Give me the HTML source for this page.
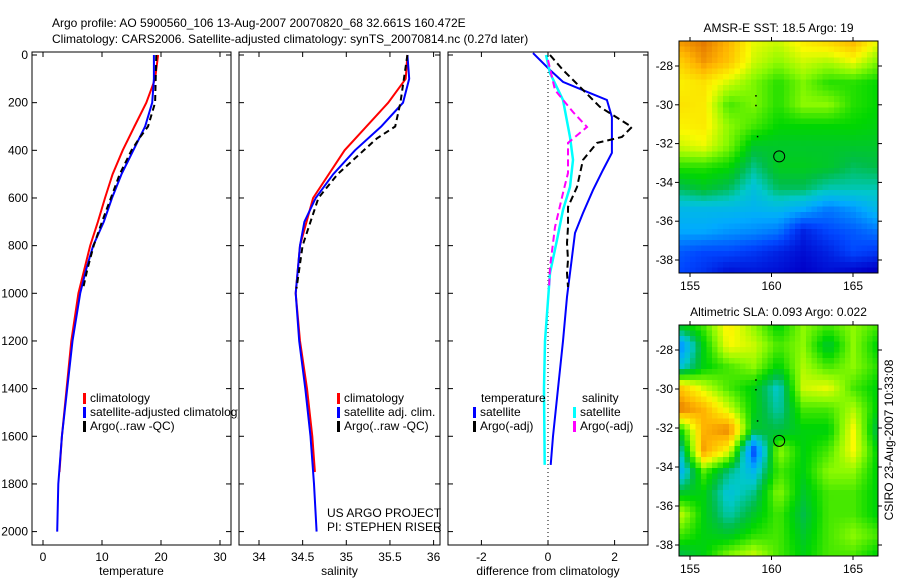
<!DOCTYPE html>
<html><head><meta charset="utf-8"><style>
body{margin:0;background:#fff;}
svg text{font-family:"Liberation Sans",sans-serif;font-size:12px;fill:#000;}
</style></head><body>
<svg id="fig" width="900" height="580" xmlns="http://www.w3.org/2000/svg">
<defs><clipPath id="clipP1"><rect x="0" y="0" width="238" height="580"/></clipPath></defs>
<text x="52" y="27" font-size="13">Argo profile: AO 5900560_106 13-Aug-2007 20070820_68 32.661S 160.472E</text>
<text x="52" y="43" font-size="13">Climatology: CARS2006. Satellite-adjusted climatology: synTS_20070814.nc (0.27d later)</text>
<g id="g"></g>
</svg>
<script>
// ---- data ----
const tempClimDepth=[0,100,200,300,400,500,600,700,800,900,1000,1200,1400,1600,1750];
const tempClimVal=[19.5,19,17.5,15.5,13.5,11.8,10.5,9.3,8,7,6,4.8,4,3.2,2.8];
const tempSatDepth=[0,100,200,300,400,500,600,700,800,900,1000,1200,1400,1600,1800,2000];
const tempSatVal=[18.8,18.8,18.5,17.3,15.3,13.3,11.7,10.3,8.5,7.3,6.3,5,4.1,3.2,2.6,2.4];
const tempArgoDepth=[0,100,200,300,350,400,500,600,700,800,900,980];
const tempArgoVal=[19.2,19.1,19,17.8,16.3,15,13,11.5,10,8.6,7.5,6.8];
const salClimDepth=[0,100,200,400,600,800,1000,1200,1400,1600,1750];
const salClimVal=[35.7,35.68,35.48,34.98,34.62,34.47,34.42,34.47,34.55,34.61,34.64];
const salSatDepth=[0,100,200,300,400,500,600,700,800,1000,1200,1400,1600,1800,2000];
const salSatVal=[35.7,35.72,35.65,35.4,35.1,34.85,34.65,34.52,34.47,34.42,34.46,34.53,34.59,34.63,34.66];
const salArgoDepth=[0,200,300,350,400,500,600,800,980];
const salArgoVal=[35.7,35.62,35.56,35.35,35.2,34.9,34.68,34.5,34.43];
const dTSatDepth=[-8,63,113,160,189,260,411,483,567,663,747,848,1015,1200,1400,1600,1720];
const dTSatVal=[-0.45,0.06,0.45,1.26,1.77,1.92,1.92,1.65,1.35,1.05,0.81,0.72,0.57,0.45,0.3,0.15,0.08];
const dSSatDepth=[0,76,189,344,440,554,650,776,915,1200,1400,1720];
const dSSatVal=[-0.06,0.06,0.45,0.66,0.75,0.66,0.45,0.27,0.06,-0.09,-0.12,-0.1];
const dSArgoDepth=[21,147,239,302,369,495,579,722,890,980];
const dSArgoVal=[0,0.21,0.75,1.17,0.6,0.6,0.45,0.21,0.06,0.03];
const dTArgoDepth=[0,63,134,218,302,344,369,440,554,638,722,789,860,915,974];
const dTArgoVal=[0.06,0.45,0.96,1.56,2.52,2.22,1.47,1.05,0.87,0.6,0.6,0.57,0.6,0.57,0.6];
const depthTicks=[0,200,400,600,800,1000,1200,1400,1600,1800,2000];
const tempTicks=[0,10,20,30];
const salTicks=[34,34.5,35,35.5,36];
const diffTicks=[-2,0,2];
const latTicks=[-28,-30,-32,-34,-36,-38];
const lonTicks=[155,160,165];
const sstGrid=[
[0.75,0.78,0.72,0.62,0.6,0.65,0.68,0.72,0.62],
[0.68,0.75,0.7,0.6,0.56,0.6,0.58,0.62,0.55],
[0.64,0.66,0.6,0.55,0.5,0.55,0.5,0.5,0.48],
[0.66,0.65,0.52,0.55,0.5,0.56,0.56,0.5,0.48],
[0.64,0.65,0.56,0.52,0.48,0.48,0.48,0.48,0.47],
[0.6,0.62,0.55,0.45,0.45,0.45,0.45,0.45,0.45],
[0.5,0.5,0.48,0.4,0.46,0.46,0.45,0.42,0.43],
[0.42,0.45,0.42,0.35,0.42,0.42,0.38,0.38,0.38],
[0.33,0.33,0.33,0.32,0.33,0.3,0.25,0.28,0.33],
[0.3,0.3,0.28,0.27,0.25,0.15,0.2,0.22,0.25],
[0.22,0.2,0.2,0.18,0.15,0.12,0.15,0.2,0.18],
[0.2,0.17,0.12,0.13,0.12,0.1,0.12,0.1,0.08]];
const slaGrid=[
[0.47,0.52,0.65,0.56,0.47,0.56,0.52,0.56,0.52],
[0.25,0.47,0.63,0.6,0.52,0.56,0.44,0.56,0.47],
[0.35,0.47,0.52,0.56,0.47,0.58,0.52,0.56,0.5],
[0.7,0.6,0.52,0.47,0.36,0.6,0.62,0.52,0.47],
[0.78,0.72,0.6,0.47,0.38,0.52,0.52,0.58,0.47],
[0.47,0.72,0.77,0.45,0.43,0.47,0.47,0.63,0.42],
[0.35,0.74,0.62,0.2,0.57,0.47,0.52,0.63,0.47],
[0.3,0.52,0.4,0.33,0.52,0.47,0.56,0.56,0.47],
[0.45,0.47,0.35,0.4,0.56,0.45,0.52,0.52,0.47],
[0.6,0.47,0.38,0.45,0.52,0.43,0.52,0.52,0.47],
[0.52,0.47,0.45,0.5,0.52,0.45,0.52,0.56,0.52],
[0.42,0.47,0.56,0.6,0.52,0.47,0.52,0.52,0.47]];

const NS='http://www.w3.org/2000/svg';
const G=document.getElementById('g');
function el(t,a,p){const e=document.createElementNS(NS,t);for(const k in a)e.setAttribute(k,a[k]);(p||G).appendChild(e);return e;}
const yD=d=>55+d*0.2383;
const TOP=52,BOT=545;
const xT=v=>43+v*5.9, xS=v=>259+(v-34)*87.3, xD=v=>548+v*33.3;

function panel(name,x0,x1,xf,ticks,label,leftLabels){
  const r=el('rect',{x:x0,y:TOP,width:x1-x0,height:BOT-TOP,fill:'none',stroke:'#000','stroke-width':1});
  
  
  ticks.forEach(t=>{const x=xf(t);
    el('line',{x1:x,x2:x,y1:BOT,y2:BOT-5,stroke:'#000'});
    el('line',{x1:x,x2:x,y1:TOP,y2:TOP+5,stroke:'#000'});
    const tx=el('text',{x:x,y:BOT+16,'text-anchor':'middle'});tx.textContent=String(t);
    
    
  });
  depthTicks.forEach(d=>{const y=yD(d);
    el('line',{x1:x0,x2:x0+5,y1:y,y2:y,stroke:'#000'});
    el('line',{x1:x1,x2:x1-5,y1:y,y2:y,stroke:'#000'});
    if(leftLabels){const tx=el('text',{x:x0-4,y:y+4,'text-anchor':'end'});tx.textContent=String(d);
      
      }
  });
  const l=el('text',{x:(x0+x1)/2,y:575,'text-anchor':'middle'});l.textContent=label;
  
  
}
function line(name,ds,vs,xf,color,w,dash){
  const pts=ds.map((d,i)=>xf(vs[i]).toFixed(1)+','+yD(d).toFixed(1)).join(' ');
  const a={points:pts,fill:'none',stroke:color,'stroke-width':w};
  if(dash)a['stroke-dasharray']=dash;
  const p=el('polyline',a);
  
  
}
function legendEntry(name,x,y,color,txt,clip){
  el('rect',{x:x,y:y-9,width:3,height:11,fill:color});
  const a={x:x+7,y:y,'font-size':12.5};
  if(clip)a['clip-path']='url(#clipP1)';
  const t=el('text',a);t.textContent=txt;
  
  
}
// panel 1 temperature
panel('temperature',32,231,xT,tempTicks,'temperature',true);
line('temp-climatology-line',tempClimDepth,tempClimVal,xT,'#f00',2);
line('temp-satellite-line',tempSatDepth,tempSatVal,xT,'#00f',2);
line('temp-argo-line',tempArgoDepth,tempArgoVal,xT,'#000',2,'6,4');
legendEntry('legend-climatology',83,402,'#f00','climatology');
legendEntry('legend-satellite-adjusted',83,416,'#00f','satellite-adjusted climatology',true);
legendEntry('legend-argo-raw',83,430,'#000','Argo(..raw -QC)');
// panel 2 salinity
panel('salinity',239,440,xS,salTicks,'salinity',false);
line('sal-climatology-line',salClimDepth,salClimVal,xS,'#f00',2);
line('sal-satellite-line',salSatDepth,salSatVal,xS,'#00f',2);
line('sal-argo-line',salArgoDepth,salArgoVal,xS,'#000',2,'6,4');
legendEntry('legend-sal-climatology',337,402,'#f00','climatology');
legendEntry('legend-sal-satellite',337,416,'#00f','satellite adj. clim.');
legendEntry('legend-sal-argo',337,430,'#000','Argo(..raw -QC)');
// panel 3 diff
panel('difference',448,648,xD,diffTicks,'difference from climatology',false);
el('line',{x1:xD(0),x2:xD(0),y1:TOP,y2:BOT,stroke:'#000','stroke-dasharray':'1,3'});
line('diff-temp-satellite-line',dTSatDepth,dTSatVal,xD,'#00f',2);
line('diff-sal-satellite-line',dSSatDepth,dSSatVal,xD,'#0ff',2.5);
line('diff-sal-argo-line',dSArgoDepth,dSArgoVal,xD,'#f0f',2,'7,4');
line('diff-temp-argo-line',dTArgoDepth,dTArgoVal,xD,'#000',2,'7,4');
{const t=el('text',{x:481,y:402,'font-size':12.5});t.textContent='temperature';
 const s=el('text',{x:582,y:402,'font-size':12.5});s.textContent='salinity';}
legendEntry('legend-diff-temp-satellite',473,416,'#00f','satellite');
legendEntry('legend-diff-temp-argo',473,430,'#000','Argo(-adj)');
legendEntry('legend-diff-sal-satellite',573,416,'#0ff','satellite');
legendEntry('legend-diff-sal-argo',573,430,'#f0f','Argo(-adj)');
{const a=el('text',{x:327,y:517,'font-size':12.5});a.textContent='US ARGO PROJECT';
 const b=el('text',{x:327,y:531,'font-size':12.5});b.textContent='PI: STEPHEN RISER';}

// ---- maps ----
const cmapStops=[[0,0,0,120],[0.1,0,0,200],[0.2,0,70,255],[0.3,0,170,255],[0.37,0,200,200],[0.43,0,190,70],[0.48,0,215,0],[0.56,140,250,0],[0.63,250,250,0],[0.72,255,180,0],[0.8,220,100,0],[1,150,0,0]];
function cmap(v){v=Math.max(0,Math.min(1,v));
  for(let k=1;k<cmapStops.length;k++){const a=cmapStops[k-1],b=cmapStops[k];
    if(v<=b[0]){const t=(v-a[0])/(b[0]-a[0]);
      return 'rgb('+[1,2,3].map(c=>Math.round(a[c]+(b[c]-a[c])*t)).join(',')+')';}}
  return 'rgb(150,0,0)';}
function sample(grid,fx,fy){const R=grid.length-1,C=grid[0].length-1;
  const gx=fx*C,gy=fy*R;const i=Math.min(Math.floor(gy),R-1),j=Math.min(Math.floor(gx),C-1);
  const u=gx-j,w=gy-i;
  return grid[i][j]*(1-u)*(1-w)+grid[i][j+1]*u*(1-w)+grid[i+1][j]*(1-u)*w+grid[i+1][j+1]*u*w;}
function map(name,grid,y0,y1,latY,title){
  const x0=679,x1=878,nx=36,ny=42,cw=(x1-x0)/nx,ch=(y1-y0)/ny;
  const g=el('g',{'shape-rendering':'crispEdges'});
  
  
  for(let i=0;i<ny;i++)for(let j=0;j<nx;j++){
    el('rect',{x:(x0+j*cw).toFixed(2),y:(y0+i*ch).toFixed(2),width:(cw+0.6).toFixed(2),height:(ch+0.6).toFixed(2),fill:cmap(sample(grid,(j+0.5)/nx,(i+0.5)/ny))},g);}
  const r=el('rect',{x:x0,y:y0,width:x1-x0,height:y1-y0,fill:'none',stroke:'#000'});
  
  
  const lx=lon=>690+(lon-155)*16.3;
  lonTicks.forEach(l=>{const x=lx(l);el('line',{x1:x,x2:x,y1:y1,y2:y1+4,stroke:'#000'});el('line',{x1:x,x2:x,y1:y0,y2:y0-4,stroke:'#000'});
    const t=el('text',{x:x,y:y1+17,'text-anchor':'middle'});t.textContent=String(l);
    });
  latTicks.forEach(l=>{const y=latY(l);el('line',{x1:x0-4,x2:x0,y1:y,y2:y,stroke:'#000'});el('line',{x1:x1,x2:x1+4,y1:y,y2:y,stroke:'#000'});
    const t=el('text',{x:x0-6,y:y+4,'text-anchor':'end'});t.textContent=String(l);
    });
  const c=el('circle',{cx:lx(160.472),cy:latY(-32.661),r:5.5,fill:'none',stroke:'#000'});
  
  [[159,-29.5],[159,-30],[159.1,-31.6]].forEach(p=>el('rect',{x:lx(p[0]),y:latY(p[1]),width:1.5,height:1.5,fill:'#000'}));
  const t=el('text',{x:(x0+x1)/2,y:y0-9,'text-anchor':'middle','font-size':11.5});t.textContent=title;
  
}
map('sst-map',sstGrid,41,273,l=>66+(-28-l)*19.4,'AMSR-E SST: 18.5 Argo: 19');
map('sla-map',slaGrid,325,556,l=>350+(-28-l)*19.5,'Altimetric SLA: 0.093 Argo: 0.022');
{const t=el('text',{x:0,y:0,'text-anchor':'middle',transform:'translate(893,440) rotate(-90)'});
 t.textContent='CSIRO 23-Aug-2007 10:33:08';
 }
</script>
</body></html>
